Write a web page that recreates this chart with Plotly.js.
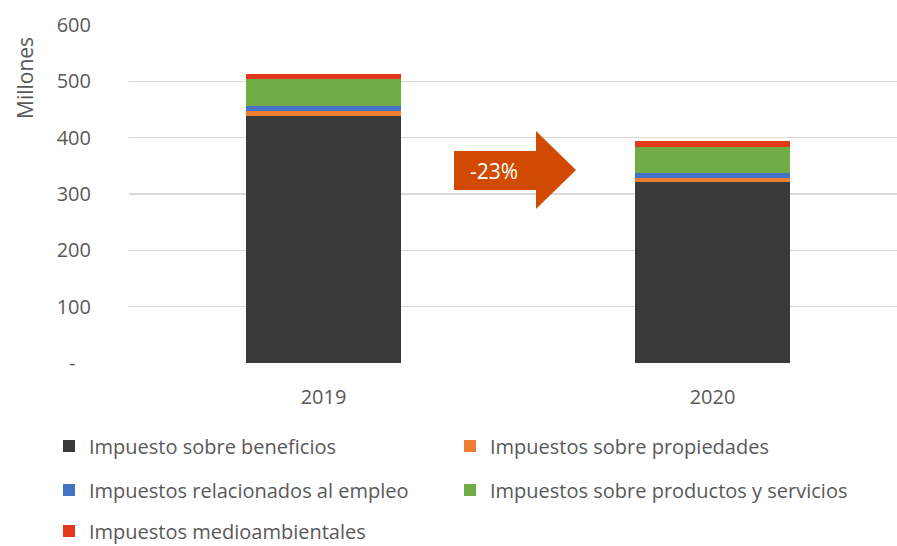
<!DOCTYPE html>
<html>
<head>
<meta charset="utf-8">
<script src="https://cdn.plot.ly/plotly-3.0.1.min.js"></script>
<style>html,body{margin:0;padding:0;background:#fff;}#chart{width:897px;height:546px;}</style>
</head>
<body>
<div id="chart"></div>
<script>
const years = ['2019', '2020'];
const beneficios = [438.5, 322];
const propiedades = [8.9, 6];
const empleo = [8.9, 9];
const productos = [48, 47];
const medioambientales = [9, 9.5];
const seriesNames = ['Impuesto sobre beneficios', 'Impuestos sobre propiedades', 'Impuestos relacionados al empleo', 'Impuestos sobre productos y servicios', 'Impuestos medioambientales'];
const seriesColors = ['#3a3a3a', '#ed7d31', '#4472c4', '#70ad47', '#e2381c'];
const yTickVals = [0, 100, 200, 300, 400, 500, 600];
const yTickText = ['-\u00a0\u00a0\u00a0', '100', '200', '300', '400', '500', '600'];
const changeLabel = '-23%';

const W = 897, H = 546;
const M = {l: 129, r: 0, t: 25, b: 183};
const pw = W - M.l - M.r, ph = H - M.t - M.b;
const px2x = p => (p - M.l) / pw;
const py2y = p => (H - M.b - p) / ph;

const font = 'Open Sans, Segoe UI, Liberation Sans, Arial, sans-serif';
const grey = '#595959';
const seriesData = [beneficios, propiedades, empleo, productos, medioambientales];
const legendIds = ['legend', 'legend2', 'legend3', 'legend4', 'legend5'];
// legend slot positions (pixels, left edge / row centre)
const legendPos = [[49, 446], [450, 446], [49, 490], [450, 490], [49, 531]];

const traces = seriesData.map((vals, i) => ({
  type: 'bar', x: years, y: vals, name: seriesNames[i],
  marker: {color: seriesColors[i], line: {width: 0}},
  width: 0.4, legend: legendIds[i], hoverinfo: 'name+y'
}));

// arrow (decoration) in pixel geometry
const ax0 = 454, ax1 = 536, axTip = 576, aBodyTop = 151, aBodyBot = 190, aHeadTop = 131, aHeadBot = 209, aMid = 170;
const pts = [[ax0, aBodyTop], [ax1, aBodyTop], [ax1, aHeadTop], [axTip, aMid], [ax1, aHeadBot], [ax1, aBodyBot], [ax0, aBodyBot]];
const path = 'M' + pts.map(p => px2x(p[0]).toFixed(5) + ',' + py2y(p[1]).toFixed(5)).join('L') + 'Z';

const layout = {
  width: W, height: H, margin: M, paper_bgcolor: '#fff', plot_bgcolor: '#fff',
  barmode: 'stack', showlegend: true,
  font: {family: font, color: grey},
  xaxis: {
    type: 'category', range: [-0.5, (pw / 389) - 0.5], showgrid: false, zeroline: false,
    showline: false, ticks: '', tickfont: {family: font, size: 20, color: grey}, ticklabelstandoff: 20,
    fixedrange: true
  },
  yaxis: {
    range: [0, 600], tickvals: yTickVals, ticktext: yTickText, showgrid: true, gridcolor: '#d9d9d9', gridwidth: 1.5,
    zeroline: false, showline: false, ticks: '', tickfont: {family: font, size: 20, color: grey}, ticklabelstandoff: 37,
    fixedrange: true
  },
  shapes: [{type: 'path', xref: 'paper', yref: 'paper', path: path, fillcolor: '#d04a02', line: {width: 0}, layer: 'above'}],
  annotations: [
    {xref: 'paper', yref: 'paper', x: px2x(494), y: py2y(171), text: changeLabel, showarrow: false,
     font: {family: font, size: 21, color: '#ffffff'}, xanchor: 'center', yanchor: 'middle'},
    {xref: 'paper', yref: 'paper', x: px2x(25), y: py2y(78), text: 'Millones', textangle: -90, showarrow: false,
     font: {family: font, size: 21, color: grey}, xanchor: 'center', yanchor: 'middle'}
  ]
};
legendIds.forEach((id, i) => {
  layout[id] = {
    orientation: 'h', xref: 'container', yref: 'container', xanchor: 'left', yanchor: 'middle',
    x: legendPos[i][0] / W, y: 1 - legendPos[i][1] / H,
    font: {family: font, size: 20, color: grey}, bgcolor: 'rgba(0,0,0,0)', borderwidth: 0
  };
});

Plotly.newPlot('chart', traces, layout, {displayModeBar: false, staticPlot: true});
</script>
</body>
</html>
